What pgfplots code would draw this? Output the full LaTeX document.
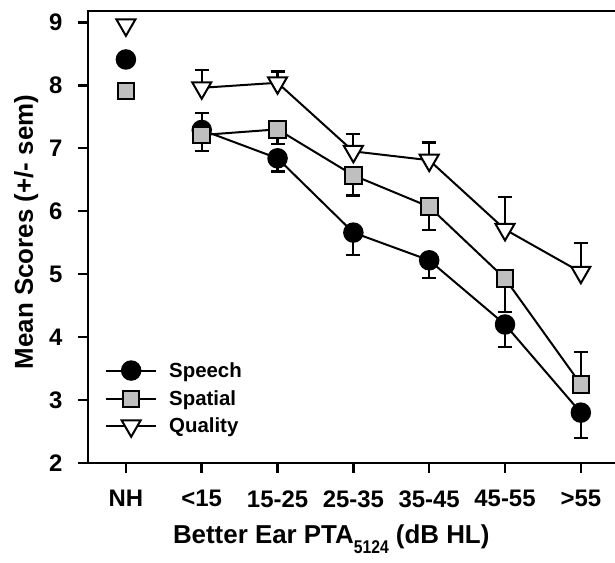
\documentclass[border=0pt]{standalone}
\usepackage{fontspec}
\setmainfont{Liberation Sans}
\usepackage{pgfplots}
\pgfplotsset{compat=1.18}
\usetikzlibrary{calc}

\pgfplotstableread{
x y ep em
1 7.29 0.27 0
2 6.84 0 0.21
3 5.66 0 0.36
4 5.22 0 0.28
5 4.20 0 0.36
6 2.80 0 0.40
}\speech
\pgfplotstableread{
x y ep em
1 7.21 0 0.25
2 7.30 0 0.23
3 6.57 0 0.32
4 6.07 0 0.37
5 4.93 0 0.53
6 3.25 0.51 0
}\spatial
\pgfplotstableread{
x y ep em
1 7.96 0.28 0
2 8.04 0.18 0
3 6.95 0.27 0
4 6.81 0.28 0
5 5.71 0.51 0
6 5.03 0.46 0
}\quality

\begin{document}
\begin{tikzpicture}
\begin{axis}[
  name=ax,
  scale only axis, width=530bp, height=452bp,
  xmin=-0.5, xmax=6.49, ymin=2, ymax=9.18,
  xtick={0,...,6},
  xticklabels={NH,{<15},15-25,25-35,35-45,45-55,{>55}},
  ytick={2,...,9},
  tick align=outside, xtick pos=bottom, ytick pos=left,
  major tick length=10bp,
  every tick/.style={black, line width=2.5bp},
  axis line style={line width=2.5bp},
  /pgf/number format/assume math mode=true,
  tick label style={font=\fontsize{24}{28}\selectfont\bfseries},
  xticklabel style={yshift=-14bp},
  yticklabel style={xshift=-12bp},
  xlabel={Better Ear PTA\raisebox{-10bp}{\fontsize{18.5}{20}\selectfont\scalebox{0.85}[1]{5124}} (dB HL)},
  xlabel style={at={(axis description cs:0.16,-0.177)}, anchor=base west, inner sep=0pt, font=\fontsize{26}{30}\selectfont\bfseries},
  ylabel={Mean Scores (+/- sem)},
  ylabel style={at={(axis description cs:-0.104,0.511)}, anchor=base, font=\fontsize{26}{30}\selectfont\bfseries},
  legend style={at={(axis description cs:0.032,0.226)}, anchor=north west, draw=none, fill=none,
    font=\fontsize{20.5}{24}\selectfont\bfseries, inner sep=0pt, row sep=10.5bp,
    nodes={inner sep=0pt},
    /tikz/every odd column/.append style={column sep=12bp}},
  legend cell align=left,
  legend image code/.code={\draw[mark repeat=2,mark phase=2] plot coordinates {(0bp,0bp) (25bp,0bp) (50bp,0bp)};},
  error bars/error bar style={line width=2.2bp, black},
  error bars/error mark options={rotate=90, mark size=7bp, line width=2.2bp, black},
]
\coordinate (O) at (rel axis cs:0,0);
\addplot[black, line width=2bp, mark=*, mark size=9.5bp, mark options={fill=black, line width=1.5bp},
  error bars/.cd, y dir=both, y explicit]
  table[x=x, y=y, y error plus=ep, y error minus=em] {\speech};
\addlegendentry{Speech}
\addplot[black, line width=2bp, mark=square*, mark size=8.3bp, mark options={fill=black!25, line width=2bp},
  error bars/.cd, y dir=both, y explicit]
  table[x=x, y=y, y error plus=ep, y error minus=em] {\spatial};
\addlegendentry{Spatial}
\addplot[black, line width=2bp, mark=triangle*, mark size=11bp, mark options={fill=white, rotate=180, line width=2bp},
  error bars/.cd, y dir=plus, y explicit]
  table[x=x, y=y, y error plus=ep] {\quality};
\addlegendentry{Quality}
\addplot[forget plot, only marks, mark=*, mark size=9.5bp, mark options={fill=black, draw=black, line width=1.5bp}]
  coordinates {(0,8.41)};
\addplot[forget plot, only marks, mark=square*, mark size=8.3bp, mark options={fill=black!25, draw=black, line width=2bp}]
  coordinates {(0,7.91)};
\addplot[forget plot, only marks, mark=triangle*, mark size=11bp, mark options={fill=white, draw=black, rotate=180, line width=2bp}]
  coordinates {(0,8.96)};
\end{axis}
\pgfresetboundingbox
\path[use as bounding box] ($(O)+(-88bp,-100bp)$) rectangle ($(O)+(527bp,463bp)$);
\end{tikzpicture}
\end{document}
